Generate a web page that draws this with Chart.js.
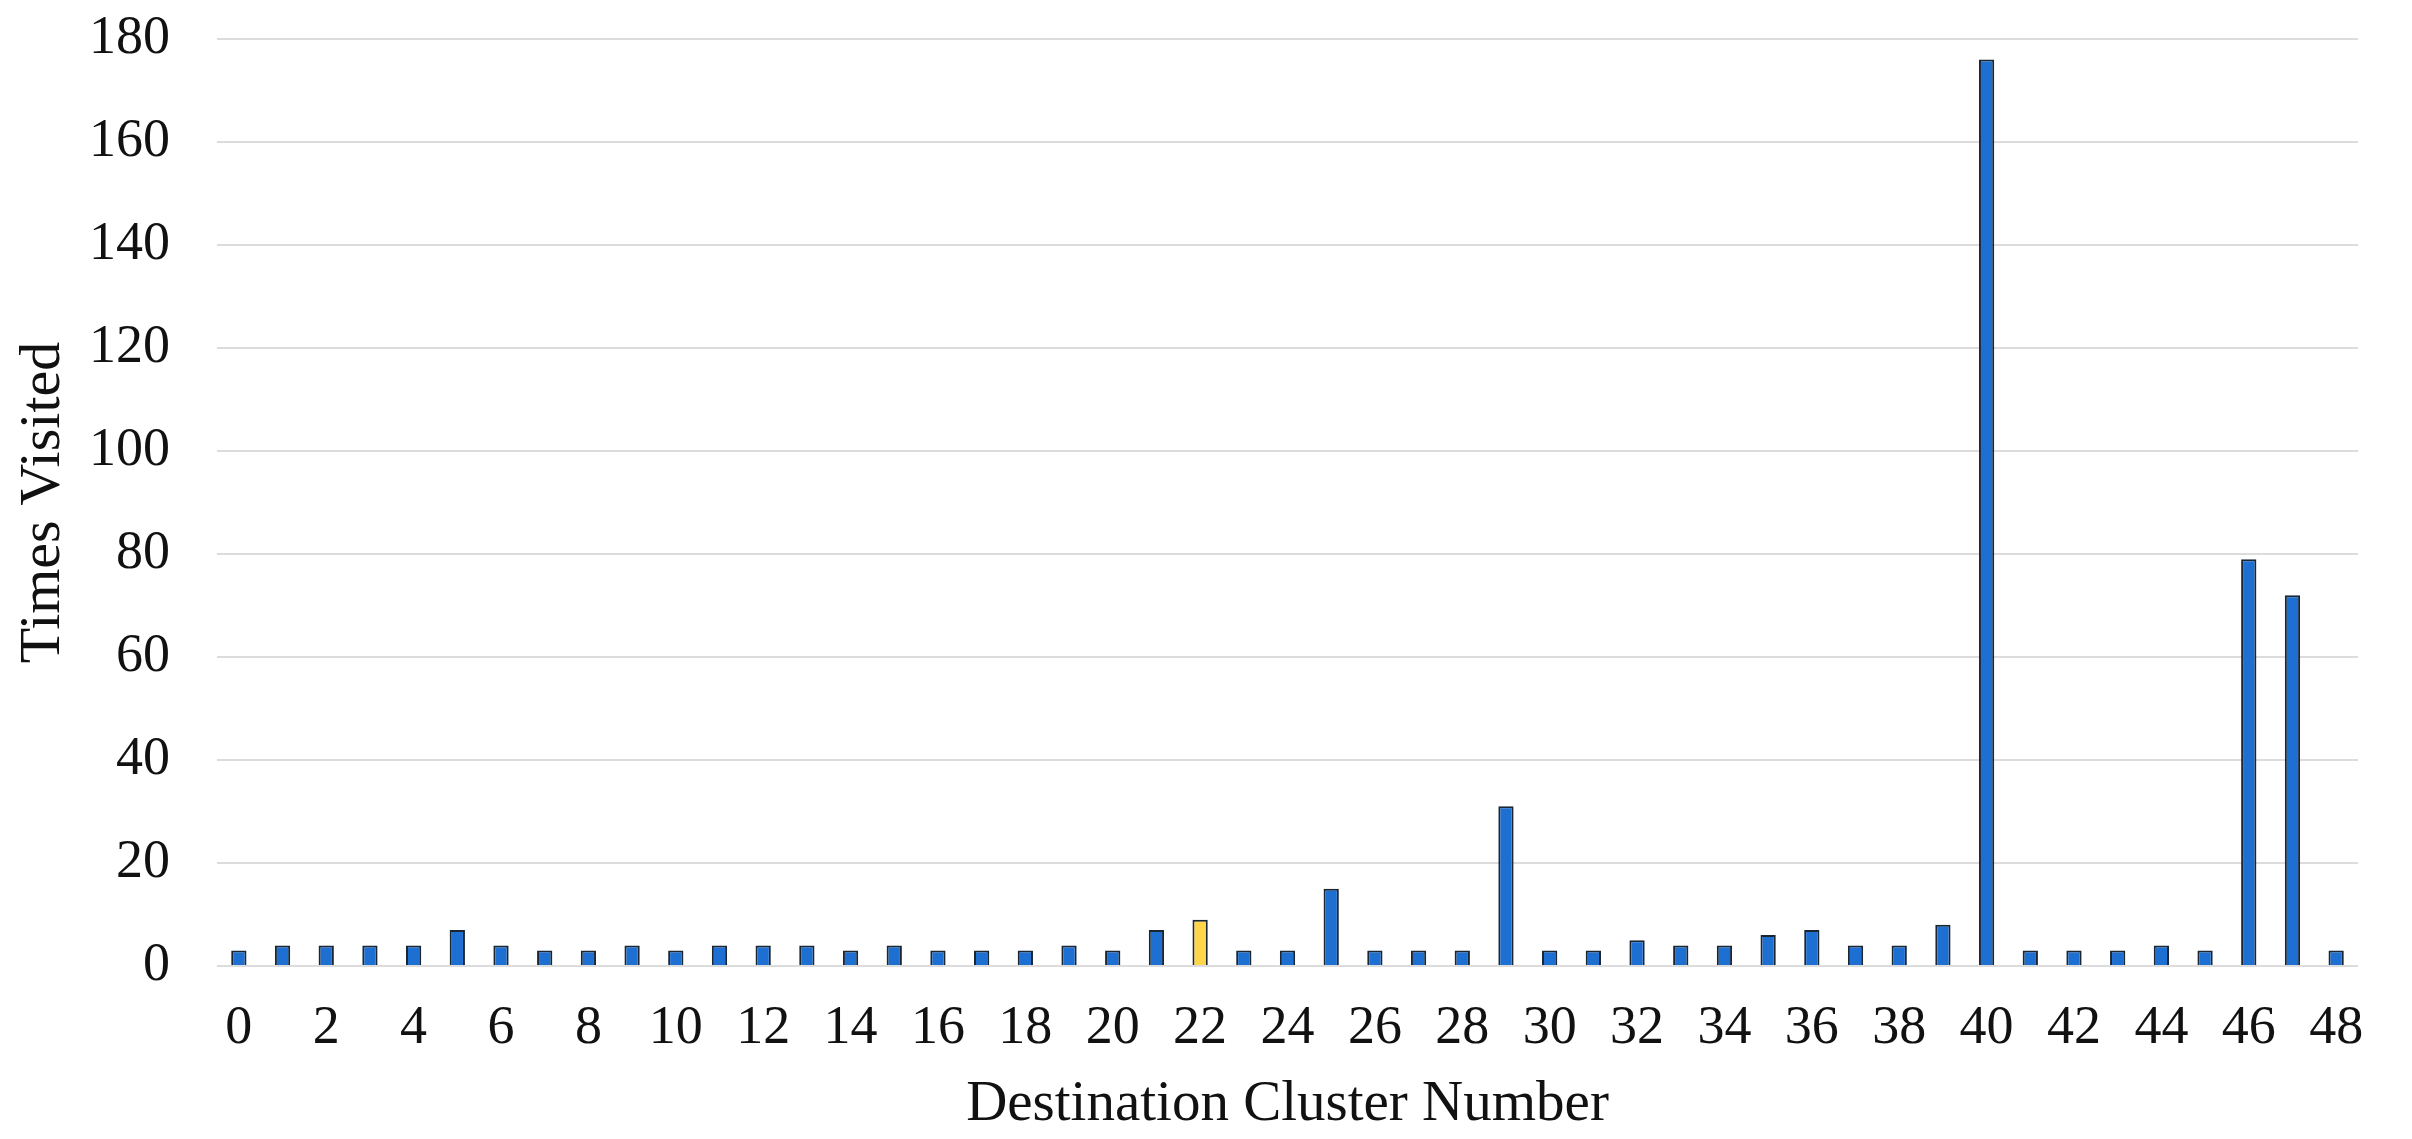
<!DOCTYPE html>
<html>
<head>
<meta charset="utf-8">
<script src="https://cdn.jsdelivr.net/npm/chart.js@4"></script>
<style>
  body { margin: 0; background: #fff; }
  #wrap { width: 2412px; height: 1139px; }
</style>
</head>
<body>
<div id="wrap"><canvas id="visitsChart"></canvas></div>
<script>
// cluster numbers 0..48
const clusters = ['0','1','2','3','4','5','6','7','8','9','10','11','12','13','14','15','16','17','18','19','20','21','22','23','24','25','26','27','28','29','30','31','32','33','34','35','36','37','38','39','40','41','42','43','44','45','46','47','48'];
const timesVisited = [3,4,4,4,4,7,4,3,3,4,3,4,4,4,3,4,3,3,3,4,3,7,9,3,3,15,3,3,3,31,3,3,5,4,4,6,7,4,4,8,176,3,3,3,4,3,79,72,3];
const highlighted = '22'; // the yellow bar
const yTicks = [0,20,40,60,80,100,120,140,160,180];

const blue = '#1e6fd2';
const yellow = '#ffd54a';
const serif = "'Liberation Serif', 'Times New Roman', serif";

const barColors = clusters.map(c => c === highlighted ? yellow : blue);

const ctx = document.getElementById('visitsChart').getContext('2d');
new Chart(ctx, {
    type: 'bar',
    data: {
        labels: clusters,
        datasets: [{
            label: 'Times Visited',
            data: timesVisited,
            backgroundColor: barColors,
            borderColor: '#1b2633',
            borderWidth: 2,
            barPercentage: 0.35,
            categoryPercentage: 1.0
        }]
    },
    options: {
        responsive: true,
        maintainAspectRatio: false,
        animation: false,
        devicePixelRatio: 1,
        layout: { padding: { left: 0, right: 54, top: 39, bottom: 0 } },
        plugins: {
            legend: { display: false },
            tooltip: { enabled: false }
        },
        scales: {
            x: {
                afterFit: function (scale) { scale.height = 173; },
                grid: { display: false },
                border: { display: false },
                ticks: {
                    autoSkip: false,
                    maxRotation: 0,
                    color: '#111',
                    padding: 22,
                    font: { family: serif, size: 54 },
                    callback: function (val, i) {
                        return i % 2 === 0 ? this.getLabelForValue(val) : '';
                    }
                },
                title: {
                    display: true,
                    text: 'Destination Cluster Number',
                    color: '#111',
                    font: { family: serif, size: 57 },
                    padding: { top: 0, bottom: 0 }
                }
            },
            y: {
                min: 0,
                max: 180,
                afterBuildTicks: function (scale) {
                    scale.ticks = yTicks.map(v => ({ value: v }));
                },
                afterFit: function (scale) {
                    scale.width = 217;
                    scale.paddingTop = 0; // let the 180 line sit close to the top edge
                },
                grid: { color: '#dcdcdc', lineWidth: 2, drawTicks: false },
                border: { display: false },
                ticks: {
                    color: '#111',
                    padding: 47,
                    font: { family: serif, size: 54 }
                },
                title: {
                    display: true,
                    text: 'Times Visited',
                    color: '#111',
                    font: { family: serif, size: 58 },
                    padding: { top: 9, bottom: 0 }
                }
            }
        }
    }
});
</script>
</body>
</html>
